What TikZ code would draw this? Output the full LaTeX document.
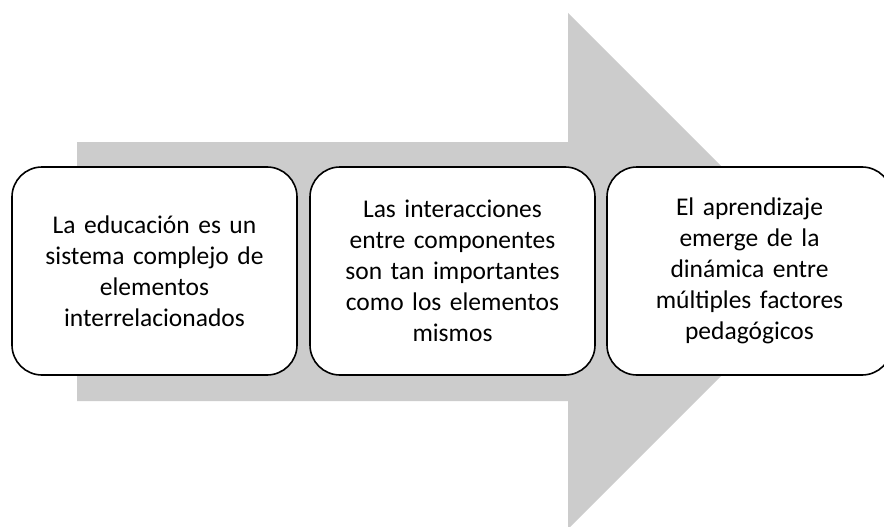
\documentclass[tikz,border=0pt]{standalone}
\usepackage{fontspec}
\setmainfont{Carlito}
\definecolor{arrowgrey}{HTML}{CCCCCC}
\tikzset{
  stagebox/.style={draw=black, fill=white, line width=1.6pt, rounded corners=30pt,
    minimum width=285pt, minimum height=208pt, align=center, text width=275pt,
    inner sep=0pt, font=\fontsize{25.5}{31}\selectfont}
}
\begin{document}
\begin{tikzpicture}[x=1pt,y=-1pt]
\clip (0,0) rectangle (884,527);
\fill[white] (0,0) rectangle (884,527);
\fill[arrowgrey] (77,142) -- (568,142) -- (568,13) -- (826,271) -- (568,529) -- (568,401) -- (77,401) -- cycle;
\node[stagebox] (b1) at (154.5,271) {La educación es un\\sistema complejo de\\elementos\\interrelacionados};
\node[stagebox] (b2) at (452.5,271) {Las interacciones\\entre componentes\\son tan importantes\\como los elementos\\mismos};
\node[stagebox] (b3) at (749.5,271) {El aprendizaje\\emerge de la\\dinámica entre\\múltiples factores\\pedagógicos};
\end{tikzpicture}
\end{document}
